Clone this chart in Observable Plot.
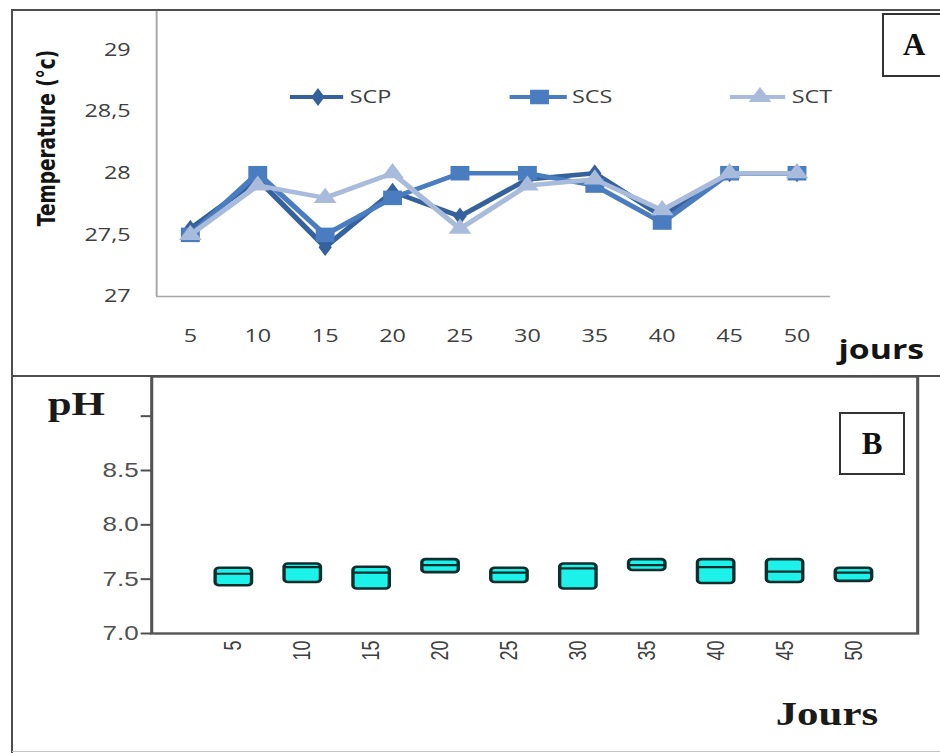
<!DOCTYPE html>
<html>
<head>
<meta charset="utf-8">
<script src="https://cdn.jsdelivr.net/npm/d3@7"></script>
<script src="https://cdn.jsdelivr.net/npm/@observablehq/plot@0.6"></script>
<style>
  html, body { margin: 0; padding: 0; background: #fff; overflow: hidden; }
  #figure { position: relative; width: 940px; height: 753px; overflow: hidden; background: #fff; }
  /* the two charts are drawn narrow and widened horizontally */
  #stretch { position: absolute; left: 0; top: 0; width: 723px; height: 753px; transform: scaleX(1.3); transform-origin: 0 0; }
  #panelA { position: absolute; left: 0; top: 10px; }
  #panelB { position: absolute; left: 0; top: 376px; }
  #legend { position: absolute; left: 0; top: 82px; }
  .rule { position: absolute; background: #4d4d4d; }
  .tag { position: absolute; box-sizing: border-box; border: 2px solid #333; background: #fff;
         font: bold 31px "Liberation Serif", "Times New Roman", serif; color: #111;
         display: flex; align-items: center; }
</style>
</head>
<body>
<div id="figure">
  <div id="stretch">
    <div id="panelA"></div>
    <div id="legend"></div>
    <div id="panelB"></div>
  </div>
  <div class="rule" style="left:12px;top:9px;width:928px;height:2px;"></div>
  <div class="rule" style="left:11px;top:9px;width:2px;height:744px;"></div>
  <div class="rule" style="left:12px;top:375px;width:928px;height:2px;"></div>
  <div class="rule" style="left:12px;top:751px;width:928px;height:1px;background:#c4c4c4;"></div>
  <div class="tag" style="left:882px;top:13px;width:70px;height:64px;padding-left:19px;">A</div>
  <div class="tag" style="left:839px;top:412px;width:66px;height:63px;justify-content:center;">B</div>
</div>
<script>
// Sampling days
const days = [5, 10, 15, 20, 25, 30, 35, 40, 45, 50];

// Water temperature (°C) per pond
const series = ["SCP", "SCS", "SCT"];
const tempSCP = [27.55, 27.95, 27.4, 27.85, 27.65, 27.95, 28.0, 27.65, 28.0, 28.0];
const tempSCS = [27.5, 28.0, 27.5, 27.8, 28.0, 28.0, 27.9, 27.6, 28.0, 28.0];
const tempSCT = [27.5, 27.9, 27.8, 28.0, 27.55, 27.9, 27.95, 27.7, 28.0, 28.0];
const tempTicks = [27, 27.5, 28, 28.5, 29];

// pH box summaries per day
const phQ1 = [7.44, 7.47, 7.41, 7.56, 7.47, 7.41, 7.58, 7.46, 7.47, 7.48];
const phQ3 = [7.60, 7.64, 7.61, 7.68, 7.60, 7.64, 7.68, 7.68, 7.68, 7.60];
const phMedian = [7.55, 7.61, 7.56, 7.63, 7.56, 7.60, 7.63, 7.61, 7.57, 7.56];
const phTicks = [7, 7.5, 8, 8.5, 9];

// Series styling
const seriesColors = ["#35629c", "#4a7cc0", "#a8bbdb"];
const seriesSymbols = ["diamond", "square", "triangle"];
const seriesRadius = [5.4, 8.2, 6.5];

const tempValues = [tempSCP, tempSCS, tempSCT];
const tempRows = series.flatMap((s, k) => days.map((d, i) => ({day: d, series: s, value: tempValues[k][i]})));
const phRows = days.map((d, i) => ({day: d, q1: phQ1[i], q3: phQ3[i], median: phMedian[i]}));

const sansTick = "'Open Sans', 'Liberation Sans', sans-serif";

// ---- Panel A: temperature lines ----
const lineMarks = series.flatMap((s, k) => {
  const rows = tempRows.filter(r => r.series === s);
  return [
    Plot.line(rows, {x: "day", y: "value", stroke: seriesColors[k], strokeWidth: 4.6, strokeLinejoin: "round"}),
    Plot.dot(rows, {x: "day", y: "value", symbol: seriesSymbols[k], r: seriesRadius[k], fill: seriesColors[k], stroke: "none"})
  ];
});

const plotA = Plot.plot({
  width: 723,
  height: 365,
  marginLeft: 120,
  marginRight: 84.5,
  marginTop: 0,
  marginBottom: 79,
  style: {background: "transparent", fontFamily: sansTick, overflow: "visible"},
  x: {domain: [2.5, 52.5]},
  y: {domain: [27, 29.32]},
  marks: [
    Plot.ruleY([27], {stroke: "#a6a6a6", strokeWidth: 1.5}),
    Plot.ruleX([2.5], {stroke: "#a6a6a6", strokeWidth: 1.5}),
    Plot.axisX({ticks: days, tickFormat: d => String(d), tickSize: 0, tickPadding: 33, fontSize: 18, color: "#404040", label: null}),
    Plot.axisY({ticks: tempTicks, tickFormat: d => String(d).replace(".", ","), tickSize: 0, tickPadding: 20, fontSize: 18, color: "#404040", label: null}),
    ...lineMarks,
    Plot.text(["Temperature (°c)"], {frameAnchor: "left", textAnchor: "middle", lineAnchor: "middle", dx: -84, dy: -15.5, rotate: -90,
      fontFamily: "'DejaVu Sans', sans-serif", fontWeight: "bold", fontSize: 18.5, fill: "#141414"}),
    Plot.text(["jours"], {frameAnchor: "bottom-right", textAnchor: "start", lineAnchor: "middle", dx: 6, dy: 54,
      fontFamily: "'Open Sans', sans-serif", fontWeight: "bold", fontSize: 26, fill: "#141414"})
  ]
});
document.getElementById("panelA").append(plotA);

// ---- Legend ----
const legendPos = [
  {x1: 223, x2: 264, cx: 244.6, tx: 269},
  {x1: 392, x2: 436, cx: 415, tx: 440},
  {x1: 561.5, x2: 604, cx: 584.6, tx: 609}
];
const symbolTypes = {diamond: d3.symbolDiamond, square: d3.symbolSquare, triangle: d3.symbolTriangle};
const legendSvg = d3.create("svg").attr("width", 723).attr("height", 30);
const ly = 15;
series.forEach((s, k) => {
  const p = legendPos[k];
  const g = legendSvg.append("g");
  g.append("line").attr("x1", p.x1).attr("x2", p.x2).attr("y1", ly).attr("y2", ly)
    .attr("stroke", seriesColors[k]).attr("stroke-width", 4);
  g.append("path")
    .attr("d", d3.symbol(symbolTypes[seriesSymbols[k]], Math.PI * seriesRadius[k] ** 2)())
    .attr("transform", `translate(${p.cx},${ly})`)
    .attr("fill", seriesColors[k]);
  g.append("text").attr("x", p.tx).attr("y", ly).attr("dy", "0.36em")
    .attr("font-family", sansTick).attr("font-size", 18).attr("fill", "#404040").text(s);
});
document.getElementById("legend").append(legendSvg.node());

// ---- Panel B: pH boxes ----
const plotB = Plot.plot({
  width: 723,
  height: 377,
  marginLeft: 116.2,
  marginRight: 17.6,
  marginTop: 0,
  marginBottom: 120,
  style: {background: "transparent", fontFamily: "'Liberation Sans', Arial, sans-serif", overflow: "visible"},
  x: {type: "band", domain: days, range: [150, 686.2], padding: 0},
  y: {domain: [7, 9.365]},
  marks: [
    Plot.barY(phRows, {x: "day", y1: "q1", y2: "q3", fill: "#1cf2ea", stroke: "#0c2e2d", strokeWidth: 2.6,
      rx: 3, insetLeft: 12.5, insetRight: 12.5}),
    Plot.tickY(phRows, {x: "day", y: "median", stroke: "#0c2e2d", strokeWidth: 2.2, insetLeft: 12.5, insetRight: 12.5}),
    Plot.frame({stroke: "#555", strokeWidth: 2.4}),
    Plot.axisY({ticks: phTicks, tickFormat: d => d === 9 ? "" : d.toFixed(1), tickSize: 8, tickPadding: 2,
      fontSize: 20, color: "#505050", strokeWidth: 2, label: null}),
    Plot.axisX({tickSize: 0, tickPadding: 7, tickRotate: -90, fontSize: 18, color: "#404040", label: null}),
    Plot.text(["pH"], {frameAnchor: "top-left", textAnchor: "start", lineAnchor: "middle", dx: -80, dy: 28.4,
      fontFamily: "'Liberation Serif', 'Times New Roman', serif", fontWeight: "bold", fontSize: 33, fill: "#1a1a1a"}),
    Plot.text(["Jours"], {frameAnchor: "bottom-right", textAnchor: "end", lineAnchor: "middle", dx: -30.4, dy: 81.4,
      fontFamily: "'Liberation Serif', 'Times New Roman', serif", fontWeight: "bold", fontSize: 33, fill: "#1a1a1a"})
  ]
});
document.getElementById("panelB").append(plotB);
</script>
</body>
</html>
